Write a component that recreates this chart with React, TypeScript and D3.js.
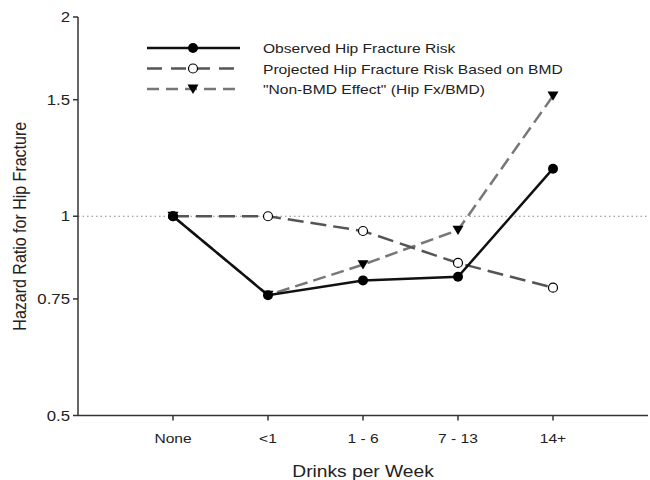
import React from "react";
import * as d3 from "d3";

const categories = ["None", "<1", "1 - 6", "7 - 13", "14+"];
const observed = [1, 0.76, 0.8, 0.81, 1.18];
const projected = [1, 1, 0.95, 0.85, 0.78];
const nonBmd = [1, 0.76, 0.845, 0.953, 1.52];
const yTicks = [0.5, 0.75, 1, 1.5, 2];
const legendLabels = [
  "Observed Hip Fracture Risk",
  "Projected Hip Fracture Risk Based on BMD",
  "\"Non-BMD Effect\" (Hip Fx/BMD)",
];

const W = 650;
const H = 480;
const font = "Liberation Sans, Arial, Helvetica, sans-serif";
const SX = 1.2;

function T(props: { x: number; y: number; size: number; anchor?: string; children: React.ReactNode }) {
  return (
    <text
      transform={`translate(${props.x},${props.y}) scale(${SX},1)`}
      textAnchor={props.anchor || "start"}
      fontFamily={font}
      fontSize={props.size}
      fill="#222"
    >
      {props.children}
    </text>
  );
}

export default function App() {
  const x = d3.scaleLinear().domain([-1, 5]).range([78, 648]);
  const y = d3.scaleLog().base(2).domain([0.5, 2]).range([415.5, 17]);
  const line = d3
    .line<number>()
    .x((_, i) => x(i))
    .y((d) => y(d));

  const tri = (cx: number, cy: number, s: number) =>
    `M${cx - s},${cy - s * 0.8}L${cx + s},${cy - s * 0.8}L${cx},${cy + s * 0.9}Z`;

  const series = [
    { data: observed, color: "#111", dash: "none", legDash: "none", marker: "filled" },
    { data: projected, color: "#555", dash: "16,7", legDash: "15,9", marker: "open" },
    { data: nonBmd, color: "#777", dash: "13,6", legDash: "12,7", marker: "tri" },
  ];

  const drawMarker = (m: string, cx: number, cy: number, key: string) => {
    if (m === "filled") return <circle key={key} cx={cx} cy={cy} r={5} fill="#000" />;
    if (m === "open")
      return <circle key={key} cx={cx} cy={cy} r={4.5} fill="#fff" stroke="#000" strokeWidth={1.2} />;
    return <path key={key} d={tri(cx, cy, 5.5)} fill="#000" />;
  };

  const drawOrder = [2, 1, 0];

  return (
    <svg width={W} height={H} style={{ display: "block", position: "absolute", left: 0, top: 0, background: "#fff" }}>
      <line x1={78} x2={648} y1={y(1)} y2={y(1)} stroke="#888" strokeWidth={1} strokeDasharray="1.5,3" />
      <line x1={78} x2={78} y1={y(2)} y2={y(0.5)} stroke="#333" strokeWidth={1.5} />
      <line x1={78} x2={648} y1={y(0.5)} y2={y(0.5)} stroke="#333" strokeWidth={1.5} />
      {yTicks.map((t) => (
        <g key={t}>
          <line x1={73} x2={78} y1={y(t)} y2={y(t)} stroke="#333" strokeWidth={1.5} />
          <T x={70} y={y(t) + 5} size={14} anchor="end">
            {String(t)}
          </T>
        </g>
      ))}
      {categories.map((c, i) => (
        <g key={c}>
          <line x1={x(i)} x2={x(i)} y1={y(0.5)} y2={y(0.5) + 5} stroke="#333" strokeWidth={1.5} />
          <T x={x(i)} y={443} size={13} anchor="middle">
            {c}
          </T>
        </g>
      ))}
      <T x={363} y={477} size={16} anchor="middle">
        Drinks per Week
      </T>
      <text
        transform={`translate(26,${y(1) + 10}) rotate(-90) scale(1,${SX})`}
        textAnchor="middle"
        fontFamily={font}
        fontSize={16}
        fill="#222"
      >
        Hazard Ratio for Hip Fracture
      </text>
      {drawOrder.map((k) => {
        const s = series[k];
        return (
          <path
            key={"l" + k}
            d={line(s.data) || ""}
            fill="none"
            stroke={s.color}
            strokeWidth={2.5}
            strokeDasharray={s.dash}
          />
        );
      })}
      {drawOrder.map((k) => series[k].data.map((v, i) => drawMarker(series[k].marker, x(i), y(v), `m${k}-${i}`)))}
      {series.map((s, k) => {
        const ly = 48 + k * 20.5;
        return (
          <g key={"lg" + k}>
            <line x1={147} x2={240} y1={ly} y2={ly} stroke={s.color} strokeWidth={2.5} strokeDasharray={s.legDash} />
            {drawMarker(s.marker, 193, ly, "lm" + k)}
            <T x={263} y={ly + 5} size={13}>
              {legendLabels[k]}
            </T>
          </g>
        );
      })}
    </svg>
  );
}
